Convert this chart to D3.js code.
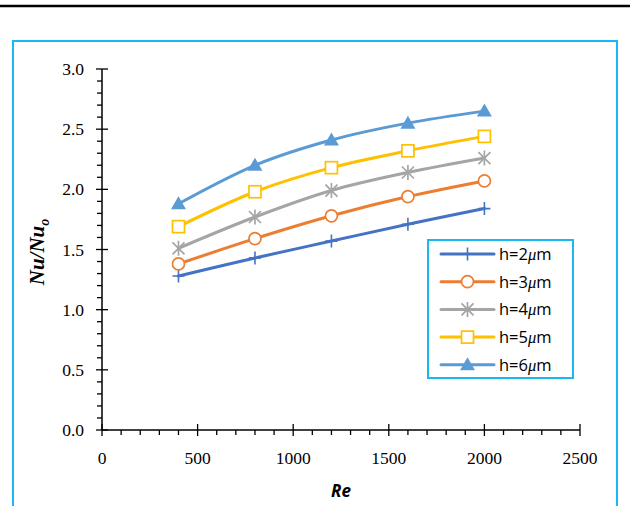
<!DOCTYPE html>
<html>
<head>
<meta charset="utf-8">
<script src="https://cdn.jsdelivr.net/npm/d3@7"></script>
<style>
  body { margin: 0; background: #fff; }
</style>
</head>
<body>
<div id="chart"></div>
<script>
// data
const reValues = [400, 800, 1200, 1600, 2000]
const seriesNames = ["h=2", "h=3", "h=4", "h=5", "h=6"]
const h2 = [1.28, 1.43, 1.57, 1.71, 1.84]
const h3 = [1.38, 1.59, 1.78, 1.94, 2.07]
const h4 = [1.51, 1.77, 1.99, 2.14, 2.26]
const h5 = [1.69, 1.98, 2.18, 2.32, 2.44]
const h6 = [1.88, 2.20, 2.41, 2.55, 2.65]
const xTicks = [0, 500, 1000, 1500, 2000, 2500]
const yTicks = [0.0, 0.5, 1.0, 1.5, 2.0, 2.5, 3.0]

const colors = ['#4472C4', '#ED7D31', '#A5A5A5', '#FFC000', '#5B9BD5']
const markers = ['plus', 'circle', 'star', 'square', 'triangle']
const allSeries = [h2, h3, h4, h5, h6]

const W = 630, H = 506
const svg = d3.select('#chart').append('svg')
    .attr('width', W)
    .attr('height', H)

// top rule + chart frame
svg.append('line')
    .attr('x1', 0).attr('x2', W)
    .attr('y1', 6).attr('y2', 6)
    .style('stroke', '#000')
    .style('stroke-width', 2.5)
svg.append('rect')
    .attr('x', 13).attr('y', 41)
    .attr('width', 604).attr('height', 480)
    .style('fill', 'none')
    .style('stroke', '#1ab8f0')
    .style('stroke-width', 2)

const xscale = d3.scaleLinear().domain([0, 2500]).range([102, 580])
const yscale = d3.scaleLinear().domain([0, 3]).range([430, 69])

const axisColor = '#000'
const tickFont = '"Liberation Serif", "Times New Roman", serif'
const sansFont = '"Open Sans", "DejaVu Sans", sans-serif'

// y axis: minor ticks (left only) and crossing major ticks
const yAxisG = svg.append('g')
yAxisG.append('line')
    .attr('x1', xscale(0)).attr('x2', xscale(0))
    .attr('y1', yscale(0)).attr('y2', yscale(3))
    .style('stroke', axisColor).style('stroke-width', 1.5)
d3.range(0, 31).forEach(function (i) {
    const v = i / 10
    const major = i % 5 === 0
    yAxisG.append('line')
        .attr('x1', xscale(0) - (major ? 6 : 5))
        .attr('x2', xscale(0) + (major ? 6 : 0))
        .attr('y1', yscale(v)).attr('y2', yscale(v))
        .style('stroke', axisColor).style('stroke-width', 1.3)
})
yTicks.forEach(function (v) {
    yAxisG.append('text')
        .attr('x', 84)
        .attr('y', yscale(v) + 6)
        .attr('text-anchor', 'end')
        .style('font-family', tickFont)
        .style('font-size', '17.5px')
        .text(v.toFixed(1))
})

// x axis: minor ticks (below only) and crossing major ticks
const xAxisG = svg.append('g')
xAxisG.append('line')
    .attr('x1', xscale(0)).attr('x2', xscale(2500))
    .attr('y1', yscale(0)).attr('y2', yscale(0))
    .style('stroke', axisColor).style('stroke-width', 1.5)
d3.range(0, 26).forEach(function (i) {
    const v = i * 100
    const major = i % 5 === 0
    xAxisG.append('line')
        .attr('x1', xscale(v)).attr('x2', xscale(v))
        .attr('y1', yscale(0) - (major ? 6 : 0))
        .attr('y2', yscale(0) + (major ? 6 : 5))
        .style('stroke', axisColor).style('stroke-width', 1.3)
})
xTicks.forEach(function (v) {
    xAxisG.append('text')
        .attr('x', xscale(v))
        .attr('y', 464)
        .attr('text-anchor', 'middle')
        .style('font-family', tickFont)
        .style('font-size', '17.5px')
        .text(v)
})

// axis titles
svg.append('text')
    .attr('x', 341).attr('y', 497)
    .attr('text-anchor', 'middle')
    .style('font-family', sansFont)
    .style('font-weight', 'bold')
    .style('font-style', 'italic')
    .style('font-size', '17px')
    .text('Re')

const yTitle = svg.append('text')
    .attr('transform', 'translate(44,252) rotate(-90)')
    .attr('text-anchor', 'middle')
    .style('font-family', tickFont)
    .style('font-weight', 'bold')
    .style('font-style', 'italic')
    .style('font-size', '21px')
yTitle.append('tspan').text('Nu/Nu')
yTitle.append('tspan').attr('dy', 5).style('font-size', '14px').text('o')

// marker drawing
function drawMarker(g, type, x, y, color) {
    if (type === 'plus') {
        g.append('path')
            .attr('d', `M${x - 6},${y}H${x + 6}M${x},${y - 6.5}V${y + 6.5}`)
            .style('stroke', color).style('stroke-width', 1.6).style('fill', 'none')
    } else if (type === 'circle') {
        g.append('circle')
            .attr('cx', x).attr('cy', y).attr('r', 6)
            .style('fill', '#fff').style('stroke', color).style('stroke-width', 1.7)
    } else if (type === 'star') {
        g.append('path')
            .attr('d', `M${x - 6},${y - 6}L${x + 6},${y + 6}M${x - 6},${y + 6}L${x + 6},${y - 6}M${x},${y - 7.5}V${y + 7.5}`)
            .style('stroke', color).style('stroke-width', 1.7).style('fill', 'none')
    } else if (type === 'square') {
        g.append('rect')
            .attr('x', x - 6).attr('y', y - 6)
            .attr('width', 12).attr('height', 12)
            .style('fill', '#fff').style('stroke', color).style('stroke-width', 1.7)
    } else if (type === 'triangle') {
        g.append('path')
            .attr('d', `M${x},${y - 7.5}L${x + 7.5},${y + 5.5}L${x - 7.5},${y + 5.5}Z`)
            .style('fill', color)
    }
}

const line = d3.line()
    .x(function (d) { return xscale(d[0]) })
    .y(function (d) { return yscale(d[1]) })
    .curve(d3.curveCatmullRom.alpha(0))

allSeries.forEach(function (vals, i) {
    const pts = reValues.map(function (r, j) { return [r, vals[j]] })
    const g = svg.append('g')
    g.append('path')
        .datum(pts)
        .attr('d', line)
        .style('fill', 'none')
        .style('stroke', colors[i])
        .style('stroke-width', 3)
        .style('stroke-linecap', 'round')
    pts.forEach(function (p) {
        drawMarker(g, markers[i], xscale(p[0]), yscale(p[1]), colors[i])
    })
})

// legend
const legend = svg.append('g')
legend.append('rect')
    .attr('x', 428).attr('y', 240)
    .attr('width', 145).attr('height', 138)
    .style('fill', '#fff')
    .style('stroke', '#1ab8f0')
    .style('stroke-width', 2)
seriesNames.forEach(function (name, i) {
    const y = 254 + i * 27.7
    legend.append('line')
        .attr('x1', 441).attr('x2', 494)
        .attr('y1', y).attr('y2', y)
        .style('stroke', colors[i]).style('stroke-width', 3)
        .style('stroke-linecap', 'round')
    drawMarker(legend, markers[i], 467.5, y, colors[i])
    const t = legend.append('text')
        .attr('x', 499).attr('y', y + 6)
        .style('font-family', sansFont)
        .style('font-size', '16.5px')
    t.append('tspan').text(name)
    t.append('tspan').style('font-style', 'italic').style('font-family', tickFont).text('\u03bc')
    t.append('tspan').text('m')
})
</script>
</body>
</html>
